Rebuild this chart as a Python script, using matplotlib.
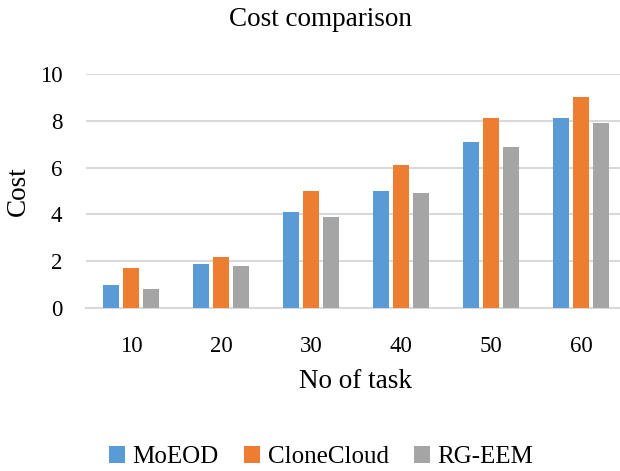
import numpy as np
import matplotlib
matplotlib.use('Agg')
import matplotlib.pyplot as plt

plt.rcParams['font.family'] = ['Liberation Serif', 'DejaVu Serif']

tasks = ['10', '20', '30', '40', '50', '60']
moeod = [1.0, 1.9, 4.1, 5.0, 7.1, 8.1]
clonecloud = [1.7, 2.2, 5.0, 6.1, 8.1, 9.0]
rg_eem = [0.8, 1.8, 3.9, 4.9, 6.9, 7.9]

series = [('MoEOD', moeod, '#5b9bd5'),
          ('CloneCloud', clonecloud, '#ed7d31'),
          ('RG-EEM', rg_eem, '#a5a5a5')]

fig = plt.figure(figsize=(6.2, 4.71), dpi=100)
# axes runs a bit past the right edge so the last group sits where it should
ax = fig.add_axes([86/620, 1 - 308/471, 540/620, 234/471])

x = np.arange(len(tasks))
width = 0.178
step = 0.222
for i, (name, vals, col) in enumerate(series):
    ax.bar(x + (i - 1) * step, vals, width, color=col, label=name, zorder=3)

ax.set_xlim(-0.5, len(tasks) - 0.5)
ax.set_ylim(0, 10)
ax.set_yticks([0, 2, 4, 6, 8, 10])
ax.set_xticks(x)
ax.set_xticklabels(tasks)
ax.grid(axis='y', color='#d9d9d9', linewidth=1.5, zorder=0)
for s in ['top', 'right', 'left']:
    ax.spines[s].set_visible(False)
ax.spines['bottom'].set_color('#d9d9d9')
ax.spines['bottom'].set_linewidth(1.5)
ax.tick_params(axis='both', length=0, labelsize=16.5)
ax.tick_params(axis='x', pad=20)
ax.tick_params(axis='y', pad=17)

fig.text(18/620, 1 - 191/471, 'Cost', ha='center', va='center', rotation=90, fontsize=19.5)
fig.text(355/620, 1 - 381/471, 'No of task', ha='center', va='center', fontsize=19.5)
fig.text(320/620, 1 - 19/471, 'Cost comparison', ha='center', va='center', fontsize=19.5)

fig.legend(loc='center', bbox_to_anchor=(321/620, 1 - 457/471), ncol=3, frameon=False,
           fontsize=18, handlelength=0.65, handleheight=0.65, columnspacing=1.0,
           handletextpad=0.3)

fig.savefig('out.png', dpi=100)
